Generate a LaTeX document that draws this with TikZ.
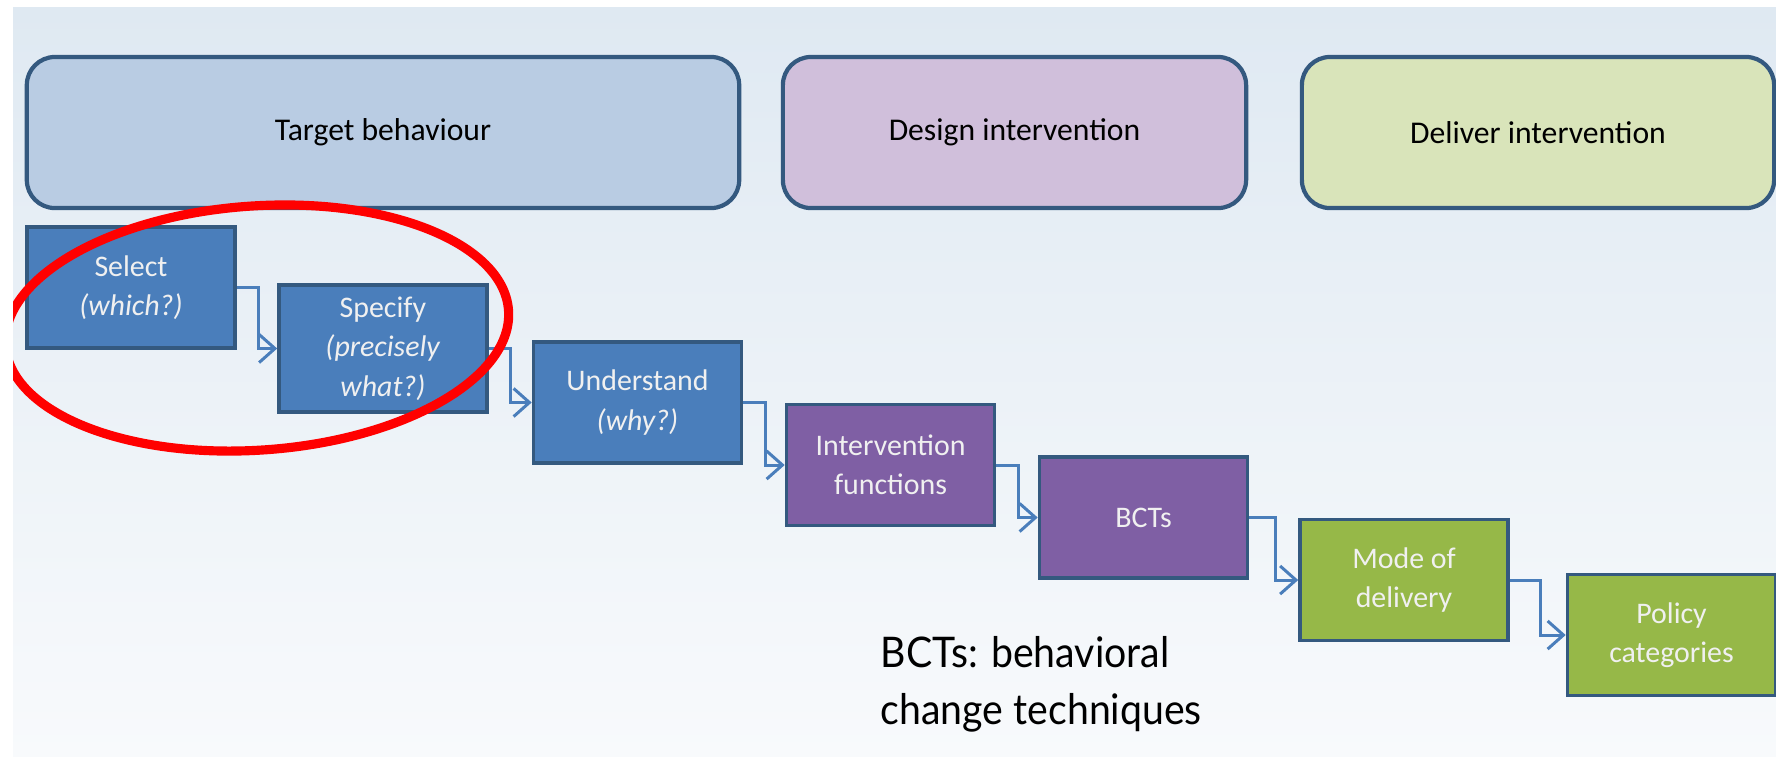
\documentclass[tikz,border=0pt]{standalone}
\usepackage{fontspec}
\setmainfont{Carlito}
\newfontfamily\notefont[FakeStretch=0.93]{Lato}
\usetikzlibrary{arrows.meta}

\definecolor{slidetop}{HTML}{DFE9F2}
\definecolor{slidebot}{HTML}{F8FAFC}
\definecolor{edgeblue}{HTML}{34597F}
\definecolor{headblue}{HTML}{B9CCE3}
\definecolor{headlilac}{HTML}{D0BFDB}
\definecolor{headgreen}{HTML}{D9E4BA}
\definecolor{stepblue}{HTML}{4A7EBB}
\definecolor{steppurple}{HTML}{7F5FA4}
\definecolor{stepgreen}{HTML}{96B848}
\definecolor{flowblue}{HTML}{4A7EBB}

\tikzset{
  phase/.style={draw=edgeblue, line width=1.2pt, rounded corners=8pt,
    minimum height=1.51cm, text=black, font=\fontsize{9}{11}\selectfont},
  stage/.style={draw=edgeblue, line width=1pt, minimum width=2.08cm,
    minimum height=1.21cm, align=center, text=white!94!black,
    font=\fontsize{8.5}{11.2}\selectfont},
  flow/.style={draw=flowblue, line width=0.85pt,
    -{Straight Barb[length=4.5pt,width=8pt]}},
}

\begin{document}
\begin{tikzpicture}[x=0.01cm,y=-0.01cm]
    \useasboundingbox (0,0) rectangle (1776,756);
    %% slide background
    \shade[top color=slidetop, bottom color=slidebot] (13,7) rectangle (1776,756);

    %% phases
    \node[phase, fill=headblue, minimum width=7.12cm] (tgt) at (383,132.5) {Target behaviour};
    \node[phase, fill=headlilac, minimum width=4.63cm] (dsg) at (1014.5,132.5) {Design intervention};
    \node[phase, fill=headgreen, minimum width=4.72cm] (dlv) at (1538,132.5) {Deliver intervention};

    %% steps
    \node[stage, fill=stepblue] (sel) at (131,287.5) {Select\\\textit{(which?)}};
    \node[stage, fill=stepblue] (spec) at (383,348.5) {Specify\\\textit{(precisely}\\\textit{what?)}};
    \node[stage, fill=stepblue] (und) at (637.5,402.5) {Understand\\\textit{(why?)}};
    \node[stage, fill=steppurple] (intf) at (890.5,465) {Intervention\\functions};
    \node[stage, fill=steppurple] (bct) at (1143.5,517.5) {BCTs};
    \node[stage, fill=stepgreen] (mode) at (1404,580) {Mode of\\delivery};
    \node[stage, fill=stepgreen] (pol) at (1671.5,635) {Policy\\categories};

    %% elbow connectors
    \draw[flow] (sel.east) -- ++(22,0) |- (spec.west);
    \draw[flow] (spec.east) -- ++(22,0) |- (und.west);
    \draw[flow] (und.east) -- ++(22,0) |- (intf.west);
    \draw[flow] (intf.east) -- ++(22,0) |- (bct.west);
    \draw[flow] (bct.east) -- ++(26,0) |- (mode.west);
    \draw[flow] (mode.east) -- ++(31,0) |- (pol.west);

    %% highlight
    \begin{scope}
        \clip (13,7) rectangle (1776,756);
        \draw[red, line width=2.6pt, rotate around={4:(257,328)}] (257,328) ellipse (2.52cm and 1.22cm);
    \end{scope}

    %% note
    \node[anchor=north west, inner sep=0pt, align=left,
          font=\notefont\fontsize{12}{16.2}\selectfont] (note) at (880,636)
          {BCTs: behavioral\\change techniques};
\end{tikzpicture}
\end{document}
